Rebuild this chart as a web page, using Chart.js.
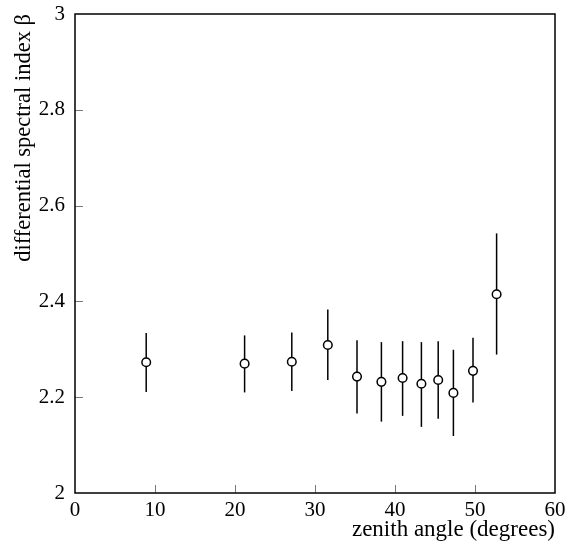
<!DOCTYPE html>
<html>
<head>
<meta charset="utf-8">
<script src="https://cdn.jsdelivr.net/npm/chart.js@4/dist/chart.umd.min.js"></script>
<style>
  html, body { margin: 0; padding: 0; background: #fff; }
  #wrap { width: 579px; height: 545px; }
</style>
</head>
<body>
<div id="wrap"><canvas id="chart"></canvas></div>
<script>
// zenith angle bins and fitted spectral index
var angles = [8.9, 21.2, 27.1, 31.6, 35.25, 38.3, 40.95, 43.3, 45.4, 47.3, 49.75, 52.7];
var beta = [2.273, 2.270, 2.274, 2.309, 2.243, 2.232, 2.240, 2.228, 2.236, 2.209, 2.255, 2.415];
var betaHigh = [2.334, 2.329, 2.335, 2.383, 2.319, 2.315, 2.317, 2.315, 2.317, 2.299, 2.324, 2.542];
var betaLow = [2.211, 2.210, 2.213, 2.236, 2.166, 2.149, 2.161, 2.138, 2.155, 2.119, 2.189, 2.289];
var xTicks = [0, 10, 20, 30, 40, 50, 60];
var yTicks = [2, 2.2, 2.4, 2.6, 2.8, 3];

var points = angles.map(function (a, i) {
  return { x: a, y: beta[i] };
});

var serif = "'Liberation Serif', 'DejaVu Serif', serif";

// vertical error bars, drawn under the circles
var errorBars = {
  id: "errorBars",
  beforeDatasetsDraw: function (chart) {
    var ctx = chart.ctx;
    var xs = chart.scales.x, ys = chart.scales.y;
    ctx.save();
    ctx.strokeStyle = "#000";
    ctx.lineWidth = 1.5;
    for (var i = 0; i < angles.length; i++) {
      var px = xs.getPixelForValue(angles[i]);
      ctx.beginPath();
      ctx.moveTo(px, ys.getPixelForValue(betaLow[i]));
      ctx.lineTo(px, ys.getPixelForValue(betaHigh[i]));
      ctx.stroke();
    }
    ctx.restore();
  },
};

// frame round the plot plus short inward ticks
var frame = {
  id: "frame",
  afterDraw: function (chart) {
    var ctx = chart.ctx, a = chart.chartArea;
    var xs = chart.scales.x, ys = chart.scales.y;
    ctx.save();
    ctx.strokeStyle = "#777";
    ctx.lineWidth = 1;
    xTicks.forEach(function (t) {
      if (t === 0 || t === 60) return;
      var px = Math.round(xs.getPixelForValue(t)) + 0.5;
      ctx.beginPath();
      ctx.moveTo(px, a.bottom);
      ctx.lineTo(px, a.bottom - 8);
      ctx.stroke();
    });
    yTicks.forEach(function (t) {
      if (t === 2 || t === 3) return;
      var py = Math.round(ys.getPixelForValue(t)) + 0.5;
      ctx.beginPath();
      ctx.moveTo(a.left, py);
      ctx.lineTo(a.left + 8, py);
      ctx.stroke();
    });
    ctx.strokeStyle = "#000";
    ctx.lineWidth = 1.5;
    ctx.strokeRect(a.left, a.top, a.right - a.left, a.bottom - a.top);
    ctx.restore();
  },
};

var config = {
  type: "scatter",
  data: {
    datasets: [
      {
        label: "beta",
        data: points,
        pointStyle: "circle",
        pointRadius: 4.3,
        pointHoverRadius: 4.3,
        pointBorderWidth: 1.5,
        pointBorderColor: "#000",
        pointBackgroundColor: "#fff",
      },
    ],
  },
  options: {
    responsive: false,
    animation: false,
    events: [],
    layout: { padding: { top: 14, right: 24, left: 0, bottom: 0 } },
    plugins: {
      legend: { display: false },
      tooltip: { enabled: false },
    },
    scales: {
      x: {
        type: "linear",
        min: 0,
        max: 60,
        afterBuildTicks: function (s) {
          s.ticks = xTicks.map(function (v) { return { value: v }; });
        },
        afterFit: function (s) {
          s.height = 52;
          s.paddingLeft = 0;
          s.paddingRight = 0;
        },
        grid: { display: false, drawTicks: false },
        border: { display: false },
        ticks: {
          padding: 5,
          color: "#000",
          maxRotation: 0,
          font: { family: serif, size: 21 },
        },
        title: {
          display: true,
          text: "zenith angle (degrees)",
          align: "end",
          color: "#000",
          padding: { top: 0, bottom: 2 },
          font: { family: serif, size: 23, lineHeight: 1.1 },
        },
      },
      y: {
        type: "linear",
        min: 2,
        max: 3,
        afterBuildTicks: function (s) {
          s.ticks = yTicks.map(function (v) { return { value: v }; });
        },
        afterFit: function (s) {
          s.width = 75;
          s.paddingTop = 0;
          s.paddingBottom = 0;
        },
        grid: { display: false, drawTicks: false },
        border: { display: false },
        ticks: {
          padding: 10,
          color: "#000",
          font: { family: serif, size: 21 },
          callback: function (v) {
            return v === 2 || v === 3 ? String(v) : v.toFixed(1);
          },
        },
        title: {
          display: true,
          text: "differential spectral index β",
          align: "end",
          color: "#000",
          padding: { top: 12, bottom: 0 },
          font: { family: serif, size: 22.5, lineHeight: 1.1 },
        },
      },
    },
  },
  plugins: [errorBars, frame],
};

var canvas = document.getElementById("chart");
canvas.width = 579;
canvas.height = 545;
new Chart(canvas.getContext("2d"), config);
</script>
</body>
</html>
